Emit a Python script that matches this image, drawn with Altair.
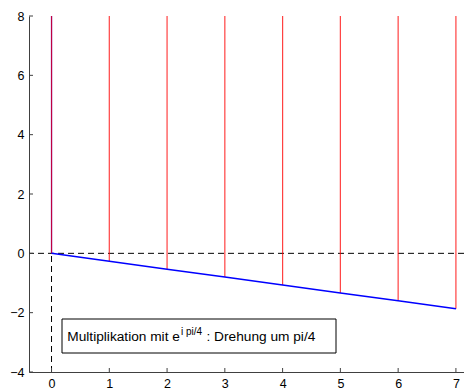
import altair as alt
import pandas as pd

# data
xs = [0, 1, 2, 3, 4, 5, 6, 7]
line_y = [0.0, -0.267, -0.534, -0.80, -1.07, -1.34, -1.60, -1.87]
top_y = 8
x_ticks = [0, 1, 2, 3, 4, 5, 6, 7]
y_ticks = [-4, -2, 0, 2, 4, 6, 8]
label_main = "Multiplikation mit e"
label_sup = "i pi/4"
label_rest = ": Drehung um pi/4"

FONT = "Arial, 'Liberation Sans', Helvetica, sans-serif"
df = pd.DataFrame({"x": xs, "y": line_y, "top": [top_y] * len(xs)})

xscale = alt.Scale(domain=[-0.39, 7.14], nice=False, zero=False)
yscale = alt.Scale(domain=[-4, 8], nice=False, zero=False)

base = alt.Chart(df)

xaxis = alt.Axis(values=x_ticks, ticks=False, grid=False, title=None, labelFont=FONT,
                 labelFontSize=12.5, labelColor="black", domainColor="#404040",
                 labelPadding=5, format="d")
yaxis = alt.Axis(values=y_ticks, ticks=False, grid=False, title=None, labelFont=FONT,
                 labelFontSize=12.5, labelColor="black", domainColor="#404040",
                 labelPadding=5, format="d", labelExpr="replace(datum.label, '-', '\u2212')")

# dashed zero lines
hz = alt.Chart(pd.DataFrame({"y": [0]})).mark_rule(color="black", strokeDash=[6, 4], strokeWidth=1).encode(
    y=alt.Y("y:Q", scale=yscale, axis=yaxis))
vz = alt.Chart(pd.DataFrame({"x": [0], "y1": [-4], "y2": [0]})).mark_rule(
    color="black", strokeDash=[6, 4], strokeWidth=1).encode(
    x=alt.X("x:Q", scale=xscale, axis=xaxis), y=alt.Y("y1:Q", scale=yscale), y2="y2:Q")

# blue vertical at 0
bv = alt.Chart(pd.DataFrame({"x": [0], "y1": [0], "y2": [top_y]})).mark_rule(
    color="#0000ff", strokeWidth=1.2).encode(
    x=alt.X("x:Q", scale=xscale), y=alt.Y("y1:Q", scale=yscale), y2="y2:Q")

# red vertical lines
red = base.mark_rule(color="#ff0000", strokeWidth=1.2, opacity=0.75).encode(
    x=alt.X("x:Q", scale=xscale), y=alt.Y("y:Q", scale=yscale), y2="top:Q")

# blue line
blue = base.mark_line(color="#0000ff", strokeWidth=1.5).encode(
    x=alt.X("x:Q", scale=xscale), y=alt.Y("y:Q", scale=yscale))

# inward ticks
xt = alt.Chart(pd.DataFrame({"x": x_ticks})).mark_rule(color="#404040").encode(
    x=alt.X("x:Q", scale=xscale), y=alt.value(356), y2=alt.value(352))
yt = alt.Chart(pd.DataFrame({"y": y_ticks})).mark_rule(color="#404040").encode(
    y=alt.Y("y:Q", scale=yscale), x=alt.value(0), x2=alt.value(4))

# annotation box
box = alt.Chart(pd.DataFrame({"a": [0]})).mark_rect(
    fill="white", stroke="black", strokeWidth=1).encode(
    x=alt.value(33), x2=alt.value(307), y=alt.value(303), y2=alt.value(337))
t1 = alt.Chart(pd.DataFrame({"t": [label_main]})).mark_text(
    font=FONT, fontSize=13.7, align="left", baseline="alphabetic", color="black").encode(
    text="t:N", x=alt.value(38.3), y=alt.value(324.5))
t2 = alt.Chart(pd.DataFrame({"t": [label_sup]})).mark_text(
    font=FONT, fontSize=10, align="left", baseline="alphabetic", color="black").encode(
    text="t:N", x=alt.value(152), y=alt.value(318.5))
t3 = alt.Chart(pd.DataFrame({"t": [label_rest]})).mark_text(
    font=FONT, fontSize=13.7, align="left", baseline="alphabetic", color="black").encode(
    text="t:N", x=alt.value(177.5), y=alt.value(324.5))

chart = alt.layer(hz, vz, bv, red, blue, xt, yt, box, t1, t2, t3).properties(
    width=435, height=356,
    autosize=alt.AutoSizeParams(type="none"),
    padding={"left": 21, "top": 8, "right": 0, "bottom": 20},
).configure_view(stroke=None).configure_axis(domainWidth=1)

chart.save("out.html", embed_options={"renderer": "svg", "actions": False})
